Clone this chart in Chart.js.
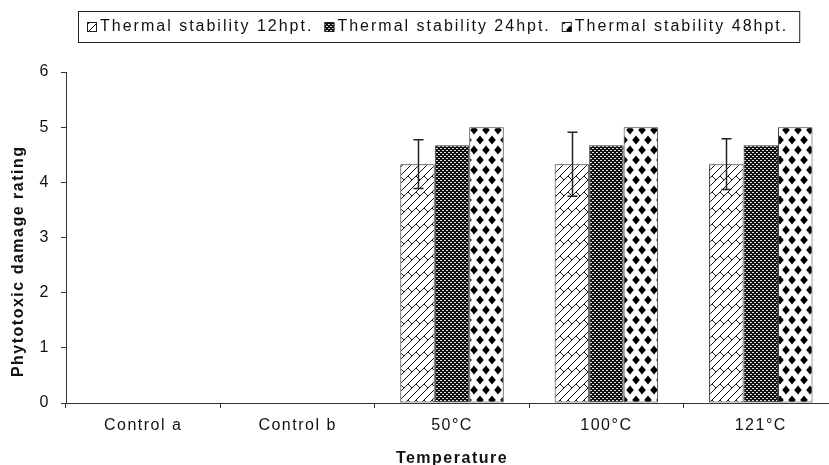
<!DOCTYPE html>
<html>
<head>
<meta charset="utf-8">
<script src="https://cdn.jsdelivr.net/npm/chart.js@4.4.1/dist/chart.umd.min.js"></script>
<style>
  html, body { margin: 0; padding: 0; background: #fff; overflow: hidden; }
  canvas { display: block; }
</style>
</head>
<body>
<canvas id="thermalChart" width="838" height="465"></canvas>
<script>
// data
const categories = ['Control a', 'Control b', '50°C', '100°C', '121°C'];
const seriesLabels = ['Thermal stability 12hpt.', 'Thermal stability 24hpt.', 'Thermal stability 48hpt.'];
const rating12 = [0, 0, 4.33, 4.33, 4.33];
const rating24 = [0, 0, 4.67, 4.67, 4.67];
const rating48 = [0, 0, 5, 5, 5];
const error12 = [0, 0, 0.44, 0.58, 0.46];
const yMin = 0;
const yMax = 6;
const yStep = 1;

const FONT = "'Liberation Sans', Arial, sans-serif";

// hatch patterns like the old excel fills
function makePattern(w, h, paint) {
  const c = document.createElement('canvas');
  c.width = w;
  c.height = h;
  const g = c.getContext('2d');
  paint(g, w, h);
  return g.createPattern(c, 'repeat');
}

// diagonal bricks
const brickFill = makePattern(16, 16, (g, w, h) => {
  g.fillStyle = '#fff';
  g.fillRect(0, 0, w, h);
  g.strokeStyle = '#111';
  g.lineWidth = 1;
  const segs = [[0, 0, 4, 4], [8, 0, 12, 4]];
  for (let s = -16; s <= 40; s += 8) {
    g.beginPath();
    g.moveTo(-2, s + 2);
    g.lineTo(s + 2, -2);
    g.stroke();
  }
  for (const [x1, y1, x2, y2] of segs) {
    for (let ox = -16; ox <= 16; ox += 16) {
      for (let oy = -16; oy <= 16; oy += 16) {
        g.beginPath();
        g.moveTo(x1 + ox, y1 + oy);
        g.lineTo(x2 + ox, y2 + oy);
        g.stroke();
      }
    }
  }
});

// dark with little white dashes
const dashFill = makePattern(4, 4, (g, w, h) => {
  g.fillStyle = '#111';
  g.fillRect(0, 0, w, h);
  g.fillStyle = '#ddd';
  g.fillRect(0, 0, 2, 1);
  g.fillRect(2, 2, 2, 1);
});

// black diamonds
const diamondFill = makePattern(12, 20, (g, w, h) => {
  g.fillStyle = '#fff';
  g.fillRect(0, 0, w, h);
  g.fillStyle = '#000';
  const pts = [[0, 0], [12, 0], [0, 20], [12, 20], [6, 10]];
  pts.forEach(([cx, cy]) => {
    g.beginPath();
    g.moveTo(cx, cy - 4.5);
    g.lineTo(cx + 3.8, cy);
    g.lineTo(cx, cy + 4.5);
    g.lineTo(cx - 3.8, cy);
    g.closePath();
    g.fill();
  });
});

const fills = [brickFill, dashFill, diamondFill];

// spaced out text like the bitmap font of the original
const spacingPlugin = {
  id: 'spacing',
  beforeDraw(chart) {
    chart.ctx.letterSpacing = '1.5px';
  },
  afterDraw(chart) {
    chart.ctx.letterSpacing = '0px';
  }
};

// error bars on the 12hpt series
const errorBarPlugin = {
  id: 'errorBars',
  afterDatasetsDraw(chart) {
    const ctx = chart.ctx;
    const y = chart.scales.y;
    const meta = chart.getDatasetMeta(0);
    ctx.save();
    ctx.strokeStyle = '#222';
    ctx.lineWidth = 1.5;
    meta.data.forEach((bar, i) => {
      const e = error12[i];
      if (!e) return;
      const v = rating12[i];
      const top = y.getPixelForValue(v + e);
      const bot = y.getPixelForValue(v - e);
      const x = Math.round(bar.x) + 0.5;
      ctx.beginPath();
      ctx.moveTo(x, top);
      ctx.lineTo(x, bot);
      ctx.moveTo(x - 5, top);
      ctx.lineTo(x + 5, top);
      ctx.moveTo(x - 5, bot);
      ctx.lineTo(x + 5, bot);
      ctx.stroke();
    });
    ctx.restore();
  }
};

// boxed legend row across the top
const boxLegendPlugin = {
  id: 'boxLegend',
  afterDraw(chart) {
    const ctx = chart.ctx;
    ctx.save();
    ctx.font = '16px ' + FONT;
    ctx.letterSpacing = '2px';
    ctx.textBaseline = 'middle';
    let x = 87;
    const midY = 27;
    chart.data.datasets.forEach((ds) => {
      ctx.fillStyle = ds.backgroundColor;
      ctx.fillRect(x, 22.5, 10, 9);
      ctx.strokeStyle = '#222';
      ctx.lineWidth = 1;
      ctx.strokeRect(x + 0.5, 22.5, 9, 9);
      ctx.fillStyle = '#111';
      ctx.fillText(ds.label, x + 13, midY);
      x += 13 + ctx.measureText(ds.label).width + 11;
    });
    ctx.strokeStyle = '#222';
    ctx.lineWidth = 1;
    ctx.strokeRect(78.5, 11.5, x - 78, 31);
    ctx.restore();
  }
};

const ctx = document.getElementById('thermalChart').getContext('2d');
new Chart(ctx, {
  type: 'bar',
  data: {
    labels: categories,
    datasets: [rating12, rating24, rating48].map((vals, i) => ({
      label: seriesLabels[i],
      data: vals,
      backgroundColor: fills[i],
      borderColor: '#333',
      borderWidth: 1,
      borderSkipped: false,
      categoryPercentage: 0.67,
      barPercentage: 1,
    })),
  },
  options: {
    responsive: false,
    animation: false,
    devicePixelRatio: 1,
    layout: {
      padding: { top: 72, right: 0, bottom: 0, left: 0 },
    },
    plugins: {
      legend: { display: false },
      tooltip: { enabled: false },
    },
    scales: {
      x: {
        grid: {
          offset: true,
          drawOnChartArea: false,
          drawTicks: true,
          tickLength: 5,
          color: '#333',
        },
        border: { color: '#333', width: 1 },
        ticks: {
          color: '#111',
          font: { family: FONT, size: 16 },
          padding: 8,
          maxRotation: 0,
        },
        title: {
          display: true,
          text: 'Temperature',
          color: '#111',
          font: { family: FONT, size: 16, weight: 'bold', lineHeight: 0.8 },
          padding: { top: 0, bottom: 0 },
        },
        afterFit(scale) {
          scale.height = 62;
        },
      },
      y: {
        min: yMin,
        max: yMax,
        grid: {
          drawOnChartArea: false,
          drawTicks: true,
          tickLength: 5,
          color: '#333',
        },
        border: { color: '#333', width: 1 },
        ticks: {
          stepSize: yStep,
          color: '#111',
          font: { family: FONT, size: 16 },
          padding: 11,
        },
        title: {
          display: true,
          text: 'Phytotoxic damage rating        ',
          color: '#111',
          font: { family: FONT, size: 16, weight: 'bold' },
          padding: { top: 9, bottom: 0 },
        },
        afterFit(scale) {
          scale.width = 66;
        },
      },
    },
  },
  plugins: [spacingPlugin, errorBarPlugin, boxLegendPlugin],
});
</script>
</body>
</html>
